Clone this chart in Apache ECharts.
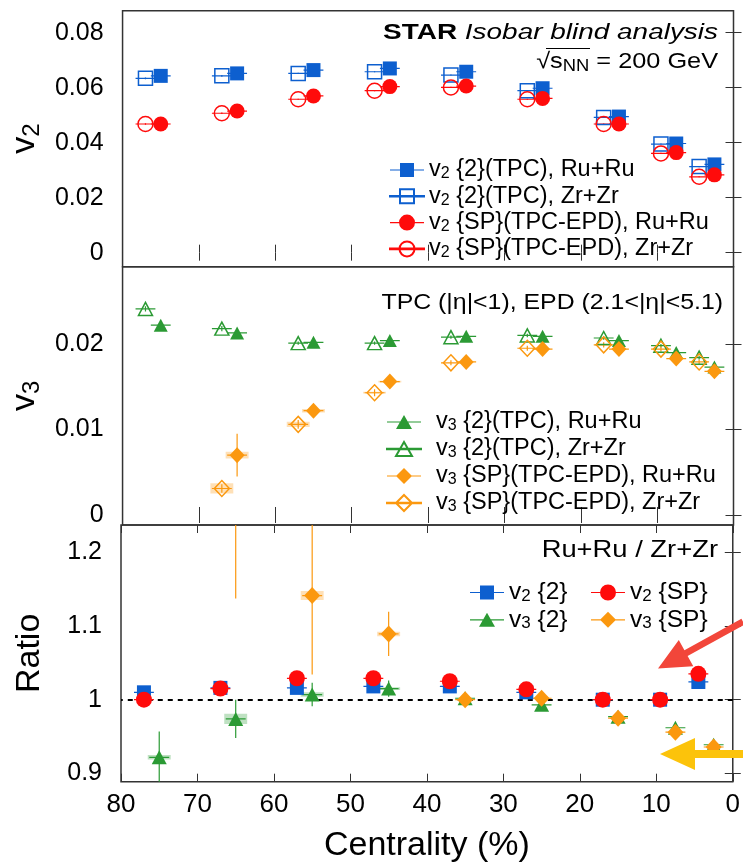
<!DOCTYPE html>
<html>
<head>
<meta charset="utf-8">
<title>STAR isobar v2 v3</title>
<script src="https://cdn.jsdelivr.net/npm/echarts@6/dist/echarts.min.js"></script>
<style>
  html, body { margin: 0; padding: 0; background: #fff; }
  #chart { width: 743px; height: 865px; }
</style>
</head>
<body>
<div id="chart"></div>
<script>
// centrality bin centres (Zr+Zr shifted a bit to the left of Ru+Ru)
var cenRu = [75, 65, 55, 45, 35, 25, 15, 7.5, 2.5];
var cenZr = [77, 67, 57, 47, 37, 27, 17, 9.5, 4.5];

// v2
var v2TpcRu = [0.0643, 0.0652, 0.0664, 0.0670, 0.0658, 0.0598, 0.0495, 0.0397, 0.0321];
var v2TpcZr = [0.0634, 0.0643, 0.0652, 0.0658, 0.0646, 0.0589, 0.0492, 0.0395, 0.0313];
var v2SpRu = [0.0468, 0.0515, 0.0570, 0.0604, 0.0606, 0.0561, 0.0468, 0.0364, 0.0283];
var v2SpZr = [0.0468, 0.0507, 0.0558, 0.0589, 0.0601, 0.0558, 0.0468, 0.0361, 0.0276];
var v2Err = [0.0003, 0.0003, 0.0002, 0.0002, 0.0002, 0.0002, 0.0002, 0.0002, 0.0002];

// v3
var v3TpcRu = [0.0222, 0.0213, 0.0202, 0.0204, 0.0209, 0.0209, 0.0204, 0.0190, 0.0173];
var v3TpcZr = [0.0241, 0.0218, 0.0201, 0.0201, 0.0208, 0.0210, 0.0207, 0.0198, 0.0184];
var v3SpRu = [null, 0.0070, 0.0122, 0.0156, 0.0179, 0.0194, 0.0194, 0.0183, 0.0168];
var v3SpZr = [null, 0.0031, 0.0106, 0.0143, 0.0178, 0.0195, 0.0199, 0.0194, 0.0179];
var v3TpcErr = [0.0003, 0.0003, 0.0002, 0.0002, 0.0002, 0.0002, 0.0002, 0.0002, 0.0002];
var v3SpRuErr = [null, 0.0025, 0.0006, 0.0004, 0.0003, 0.0003, 0.0003, 0.0003, 0.0003];
var v3SpZrErr = [null, 0.0005, 0.0005, 0.0004, 0.0003, 0.0003, 0.0003, 0.0003, 0.0003];
var v3SpRuSys = [null, 0.0004, 0.0002, 0.0001, 0, 0, 0, 0, 0];
var v3SpZrSys = [null, 0.0006, 0.0003, 0.0001, 0, 0, 0, 0, 0];

// Ru+Ru / Zr+Zr
var ratV2Tpc = [1.010, 1.016, 1.016, 1.018, 1.018, 1.010, 1.000, 1.000, 1.024];
var ratV2Sp = [1.000, 1.015, 1.029, 1.029, 1.025, 1.014, 1.000, 1.000, 1.035];
var ratV3Tpc = [0.922, 0.974, 1.007, 1.015, 1.002, 0.993, 0.977, 0.962, 0.939];
var ratV3Sp = [null, 1.300, 1.141, 1.089, 1.000, 1.002, 0.975, 0.956, 0.936];
var ratV2Err = [0.003, 0.003, 0.003, 0.003, 0.003, 0.003, 0.003, 0.003, 0.003];
var ratV3TpcErr = [0.035, 0.026, 0.016, 0.011, 0.005, 0.004, 0.004, 0.004, 0.004];
var ratV3SpErr = [null, 0.163, 0.107, 0.030, 0.005, 0.004, 0.004, 0.004, 0.004];
var ratV3TpcSys = [0.003, 0.007, 0.003, 0.002, 0, 0, 0, 0, 0];
var ratV3SpSys = [null, 0.008, 0.006, 0.003, 0, 0, 0, 0, 0];

var FONT = '"Liberation Sans", Arial, Helvetica, sans-serif';
var BLUE = '#0d5fcf';
var RED = '#ff0b0b';
var GREEN = '#2b9a34';
var ORANGE = '#fb980f';

var chart = echarts.init(document.getElementById('chart'), null, {renderer: 'canvas'});

function pts(xs, ys, errs, syss) {
    var out = [];
    for (var i = 0; i < xs.length; i++) {
        if (ys[i] == null) continue;
        out.push([xs[i], ys[i], errs ? (errs[i] || 0) : 0, syss ? (syss[i] || 0) : 0]);
    }
    return out;
}

// horizontal bin bar, stat error bar, sys box
function barsRenderer(color) {
    return function (params, api) {
        var x = api.value(0), y = api.value(1), e = api.value(2), s = api.value(3);
        var kids = [];
        if (s > 0) {
            var a = api.coord([x + 1.5, y + s]);
            var b = api.coord([x - 1.5, y - s]);
            kids.push({
                type: 'rect',
                shape: {x: a[0], y: a[1], width: b[0] - a[0], height: b[1] - a[1]},
                style: {fill: color, opacity: 0.3, stroke: null}
            });
        }
        var l = api.coord([x + 1.3, y]);
        var r = api.coord([x - 1.3, y]);
        kids.push({
            type: 'line',
            shape: {x1: l[0], y1: l[1], x2: r[0], y2: r[1]},
            style: {stroke: color, lineWidth: 1.2}
        });
        if (e > 0) {
            var t = api.coord([x, y + e]);
            var d = api.coord([x, y - e]);
            kids.push({
                type: 'line',
                shape: {x1: t[0], y1: t[1], x2: d[0], y2: d[1]},
                style: {stroke: color, lineWidth: 1.2}
            });
        }
        return {type: 'group', children: kids};
    };
}

function bars(idx, data, color) {
    return {
        type: 'custom',
        xAxisIndex: idx * 2,
        yAxisIndex: idx * 2,
        clip: true,
        silent: true,
        renderItem: barsRenderer(color),
        encode: {x: 0, y: 1},
        data: data,
        z: 2
    };
}

function marks(idx, name, data, symbol, size, color, open) {
    return {
        type: 'scatter',
        name: name,
        xAxisIndex: idx * 2,
        yAxisIndex: idx * 2,
        symbol: symbol,
        symbolSize: size,
        clip: true,
        data: data,
        encode: {x: 0, y: 1},
        itemStyle: open
            ? {color: 'rgba(255,255,255,0)', borderColor: color, borderWidth: 1.5, opacity: 1}
            : {color: color, borderWidth: 0, opacity: 1},
        z: 3
    };
}

var ICON_SQ = 'path://M0,7.4H34V8.6H0Z M10,1H24V15H10Z';
var ICON_SQ_O = 'path://M0,7.7H34V8.3H0Z M10,1H24V15H10Z';
var ICON_CI = 'path://M0,7.4H34V8.6H0Z M9,8A8,8,0,1,1,25,8A8,8,0,1,1,9,8Z';
var ICON_CI_O = 'path://M0,7.7H34V8.3H0Z M9.5,8A7.5,7.5,0,1,1,24.5,8A7.5,7.5,0,1,1,9.5,8Z';
var ICON_TR = 'path://M0,7.4H34V8.6H0Z M17,1L25,15H9Z';
var ICON_TR_O = 'path://M0,7.7H34V8.3H0Z M17,1L25,15H9Z';
var ICON_DI = 'path://M0,7.4H34V8.6H0Z M17,0L25,8L17,16L9,8Z';
var ICON_DI_O = 'path://M0,7.7H34V8.3H0Z M17,0L25,8L17,16L9,8Z';

function legendLabel(name) {
    // "v2 {2}(TPC), Ru+Ru" -> v with subscript 2
    return '{v|v}{s|' + name.charAt(1) + '}' + name.slice(2);
}

function legendBox(items, fs, pad, extra) {
    var l = {
        data: items,
        selectedMode: false,
        itemWidth: 34,
        itemHeight: 16,
        formatter: legendLabel,
        textStyle: {
            fontSize: fs, fontFamily: FONT, color: '#000', lineHeight: 24, padding: [0, 0, 0, pad],
            rich: {
                v: {fontSize: fs, fontFamily: FONT, lineHeight: 24, color: '#000'},
                s: {fontSize: Math.round(fs * 0.7), fontFamily: FONT, lineHeight: 13, verticalAlign: 'bottom', color: '#000'}
            }
        }
    };
    for (var k in extra) l[k] = extra[k];
    return l;
}

var grids = [
    {left: 121, right: 9.5, top: 10.7, height: 256},
    {left: 121, right: 9.5, top: 266.7, height: 258.3},
    {left: 121, right: 9.5, top: 525, height: 256.7}
];
var yRanges = [[-0.0051, 0.088], [-0.00117, 0.02904], [0.889, 1.2365]];
var yTicks = [[0, 0.02, 0.04, 0.06, 0.08], [0, 0.01, 0.02], [0.9, 1, 1.1, 1.2]];
var yNames = ['{v|v}{s|2}', '{v|v}{s|3}', '{r|Ratio}'];

var tickStyle = {show: true, inside: true, length: 8, lineStyle: {color: '#333', width: 1}};

var xAxes = [], yAxes = [];
grids.forEach(function (g, i) {
    g.show = true;
    g.borderColor = '#333';
    g.borderWidth = 1.5;
    g.backgroundColor = 'transparent';
    var last = (i === grids.length - 1);
    xAxes.push({
        type: 'value', gridIndex: i, position: 'bottom', inverse: true,
        min: 0, max: 80, interval: 10,
        axisLine: {show: false}, splitLine: {show: false},
        axisTick: tickStyle,
        axisLabel: {show: last, fontSize: 26, fontFamily: FONT, color: '#000', margin: 10},
        name: last ? 'Centrality (%)' : '',
        nameLocation: 'middle', nameGap: 47,
        nameTextStyle: {fontSize: 34, fontFamily: FONT, color: '#000'}
    });
    xAxes.push({
        type: 'value', gridIndex: i, position: 'top', inverse: true,
        min: 0, max: 80, interval: 10,
        axisLine: {show: false}, splitLine: {show: false},
        axisTick: tickStyle, axisLabel: {show: false}
    });
    yAxes.push({
        type: 'value', gridIndex: i, position: 'left',
        min: yRanges[i][0], max: yRanges[i][1],
        axisLine: {show: false}, splitLine: {show: false},
        axisTick: {show: true, inside: true, length: 8, lineStyle: {color: '#333', width: 1}, customValues: yTicks[i]},
        axisLabel: {
            fontSize: 25, fontFamily: FONT, color: '#000', margin: 19,
            customValues: yTicks[i],
            formatter: function (v) { return String(+v.toFixed(3)); }
        },
        name: yNames[i], nameLocation: 'middle', nameRotate: 90, nameGap: 72,
        nameTextStyle: {
            fontFamily: FONT, color: '#000',
            rich: {
                v: {fontSize: 34, fontFamily: FONT, lineHeight: 38, color: '#000'},
                s: {fontSize: 24, fontFamily: FONT, lineHeight: 20, verticalAlign: 'bottom', color: '#000'},
                r: {fontSize: 34, fontFamily: FONT, lineHeight: 38, color: '#000'}
            }
        }
    });
    yAxes.push({
        type: 'value', gridIndex: i, position: 'right',
        min: yRanges[i][0], max: yRanges[i][1],
        axisLine: {show: false}, splitLine: {show: false},
        axisTick: {show: true, inside: true, length: 8, lineStyle: {color: '#333', width: 1}, customValues: yTicks[i]},
        axisLabel: {show: false}
    });
});

var series = [
    // top: v2
    bars(0, pts(cenZr, v2TpcZr, v2Err), BLUE),
    marks(0, 'v2 {2}(TPC), Zr+Zr', pts(cenZr, v2TpcZr), 'rect', 14, BLUE, true),
    bars(0, pts(cenZr, v2SpZr, v2Err), RED),
    marks(0, 'v2 {SP}(TPC-EPD), Zr+Zr', pts(cenZr, v2SpZr), 'circle', 15, RED, true),
    bars(0, pts(cenRu, v2TpcRu, v2Err), BLUE),
    marks(0, 'v2 {2}(TPC), Ru+Ru', pts(cenRu, v2TpcRu), 'rect', 14, BLUE, false),
    bars(0, pts(cenRu, v2SpRu, v2Err), RED),
    marks(0, 'v2 {SP}(TPC-EPD), Ru+Ru', pts(cenRu, v2SpRu), 'circle', 15, RED, false),

    // middle: v3
    bars(1, pts(cenZr, v3TpcZr, v3TpcErr), GREEN),
    marks(1, 'v3 {2}(TPC), Zr+Zr', pts(cenZr, v3TpcZr), 'triangle', [14, 13], GREEN, true),
    bars(1, pts(cenZr, v3SpZr, v3SpZrErr, v3SpZrSys), ORANGE),
    marks(1, 'v3 {SP}(TPC-EPD), Zr+Zr', pts(cenZr, v3SpZr), 'diamond', [15, 16], ORANGE, true),
    bars(1, pts(cenRu, v3TpcRu, v3TpcErr), GREEN),
    marks(1, 'v3 {2}(TPC), Ru+Ru', pts(cenRu, v3TpcRu), 'triangle', [14, 13], GREEN, false),
    bars(1, pts(cenRu, v3SpRu, v3SpRuErr, v3SpRuSys), ORANGE),
    marks(1, 'v3 {SP}(TPC-EPD), Ru+Ru', pts(cenRu, v3SpRu), 'diamond', [15, 16], ORANGE, false),

    // bottom: ratios
    bars(2, pts(cenRu, ratV3Tpc, ratV3TpcErr, ratV3TpcSys), GREEN),
    marks(2, 'v3 {2}', pts(cenRu, ratV3Tpc), 'triangle', [15, 14], GREEN, false),
    bars(2, pts(cenRu, ratV3Sp, ratV3SpErr, ratV3SpSys), ORANGE),
    marks(2, 'v3 {SP}', pts(cenRu, ratV3Sp), 'diamond', [16, 17], ORANGE, false),
    bars(2, pts(cenZr, ratV2Tpc, ratV2Err), BLUE),
    marks(2, 'v2 {2}', pts(cenZr, ratV2Tpc), 'rect', 14, BLUE, false),
    bars(2, pts(cenZr, ratV2Sp, ratV2Err), RED),
    marks(2, 'v2 {SP}', pts(cenZr, ratV2Sp), 'circle', 16, RED, false)
];

// unity line in the ratio panel
series[series.length - 1].markLine = {
    silent: true,
    symbol: 'none',
    label: {show: false},
    lineStyle: {color: '#000', width: 2, type: [5, 5]},
    data: [{yAxis: 1}],
    z: 1
};

// arrows drawn on the figure
function arrow(tail, tip, headLen, headHalf, shaftHalf, color) {
    var dx = tip[0] - tail[0], dy = tip[1] - tail[1];
    var len = Math.sqrt(dx * dx + dy * dy);
    var ux = dx / len, uy = dy / len, nx = -uy, ny = ux;
    var bx = tip[0] - ux * headLen, by = tip[1] - uy * headLen;
    return {
        type: 'polygon',
        z: 100,
        shape: {points: [
            [tail[0] + nx * shaftHalf, tail[1] + ny * shaftHalf],
            [bx + nx * shaftHalf, by + ny * shaftHalf],
            [bx + nx * headHalf, by + ny * headHalf],
            tip,
            [bx - nx * headHalf, by - ny * headHalf],
            [bx - nx * shaftHalf, by - ny * shaftHalf],
            [tail[0] - nx * shaftHalf, tail[1] - ny * shaftHalf]
        ]},
        style: {fill: color}
    };
}

// right-aligned label, slightly widened like the original figure's font
function label(x, y, sx, style) {
    style.x = 0;
    style.y = 0;
    style.align = 'right';
    style.verticalAlign = 'middle';
    style.fontFamily = style.fontFamily || FONT;
    style.fill = style.fill || '#000';
    return {type: 'text', z: 50, x: x, y: y, scaleX: sx, style: style};
}

var option = {
    backgroundColor: '#fff',
    animation: false,
    grid: grids,
    xAxis: xAxes,
    yAxis: yAxes,
    legend: [
        legendBox([
            {name: 'v2 {2}(TPC), Ru+Ru', icon: ICON_SQ},
            {name: 'v2 {2}(TPC), Zr+Zr', icon: ICON_SQ_O},
            {name: 'v2 {SP}(TPC-EPD), Ru+Ru', icon: ICON_CI},
            {name: 'v2 {SP}(TPC-EPD), Zr+Zr', icon: ICON_CI_O}
        ], 23.5, 0, {orient: 'vertical', left: 384, top: 153, itemGap: 2.3}),
        legendBox([
            {name: 'v3 {2}(TPC), Ru+Ru', icon: ICON_TR},
            {name: 'v3 {2}(TPC), Zr+Zr', icon: ICON_TR_O},
            {name: 'v3 {SP}(TPC-EPD), Ru+Ru', icon: ICON_DI},
            {name: 'v3 {SP}(TPC-EPD), Zr+Zr', icon: ICON_DI_O}
        ], 23.5, 10, {orient: 'vertical', left: 381, top: 405, itemGap: 3}),
        legendBox([
            {name: 'v2 {2}', icon: ICON_SQ},
            {name: 'v3 {2}', icon: ICON_TR}
        ], 24.5, 0, {orient: 'vertical', left: 465, top: 575, itemGap: 2.3}),
        legendBox([
            {name: 'v2 {SP}', icon: ICON_CI},
            {name: 'v3 {SP}', icon: ICON_DI}
        ], 24.5, 0, {orient: 'vertical', left: 586, top: 575, itemGap: 2.3})
    ],
    graphic: [
        label(718, 33, 1.27, {
            text: '{b|STAR} {i|Isobar blind analysis}',
            fontSize: 22,
            rich: {
                b: {fontSize: 22, fontWeight: 'bold', fontFamily: FONT, fill: '#000'},
                i: {fontSize: 22, fontStyle: 'italic', fontFamily: FONT, fill: '#000'}
            }
        }),
        label(718, 62, 1.15, {
            text: '{t|\u221As}{n|NN}{t| = 200 GeV}',
            fontSize: 22,
            rich: {
                t: {fontSize: 22, fontFamily: FONT, lineHeight: 26, fill: '#000'},
                n: {fontSize: 16, fontFamily: FONT, lineHeight: 14, verticalAlign: 'bottom', fill: '#000'}
            }
        }),
        {type: 'line', z: 50, shape: {x1: 546, y1: 48.5, x2: 590, y2: 48.5}, style: {stroke: '#000', lineWidth: 1}},
        label(723, 303, 1.13, {
            text: 'TPC (|\u03B7|<1), EPD (2.1<|\u03B7|<5.1)',
            fontSize: 22
        }),
        label(718, 550, 1.14, {
            text: 'Ru+Ru / Zr+Zr',
            fontSize: 24
        }),
        arrow([743, 621.7], [658, 668.5], 32, 15, 3.3, '#f2463a'),
        arrow([743, 754], [660, 754], 35, 16, 4, '#fcc30b')
    ],
    series: series
};
chart.setOption(option);
</script>
</body>
</html>
